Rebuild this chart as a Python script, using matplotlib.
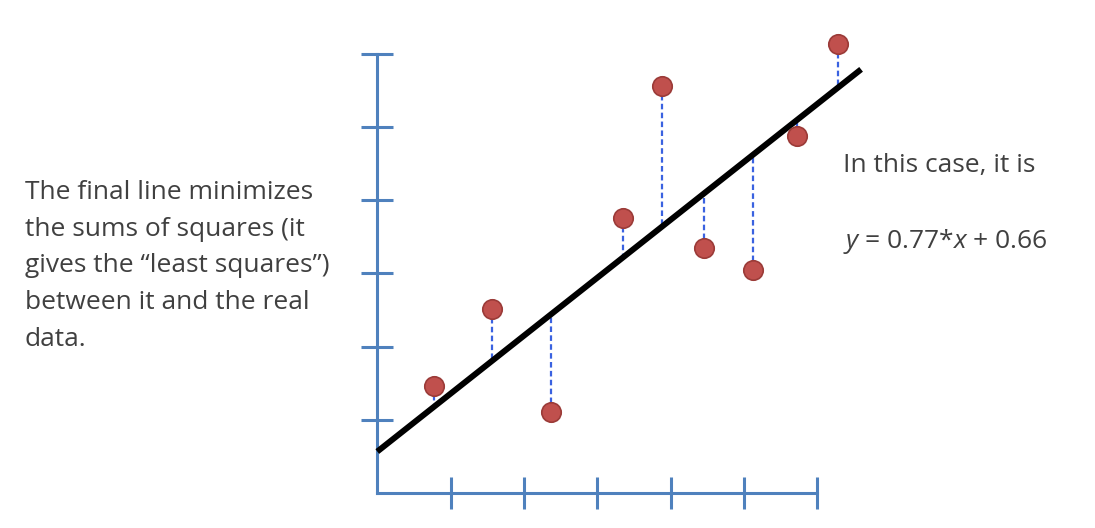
import numpy as np
import matplotlib
matplotlib.use("Agg")
import matplotlib.pyplot as plt

plt.rcParams['font.family'] = ['Open Sans', 'DejaVu Sans']
plt.rcParams['mathtext.fontset'] = 'custom'
plt.rcParams['mathtext.rm'] = 'Open Sans'
plt.rcParams['mathtext.it'] = 'Open Sans:italic'

# data points (axis units)
x_pts = [0.77, 1.57, 2.37, 3.35, 3.89, 4.46, 5.12, 5.73, 6.28]
y_pts = [1.46, 2.52, 1.11, 3.76, 5.55, 3.34, 3.05, 4.87, 6.13]

# fitted line as drawn
fit_slope = 0.79
fit_intercept = 0.57
fit_x = [0.0, 6.6]

tick_vals = [1, 2, 3, 4, 5, 6]

left_lines = ["The final line minimizes", "the sums of squares (it",
              "gives the \u201cleast squares\u201d)", "between it and the real",
              "data."]

axis_col = '#4f81bd'
text_col = '#404040'

fig = plt.figure(figsize=(10.95, 5.28), dpi=100)
ax = fig.add_axes([0, 0, 1, 1])
ax.set_xlim(-5.147, 9.791)
ax.set_ylim(-0.473, 6.730)

# axes like the slide
for side in ['top', 'right']:
    ax.spines[side].set_visible(False)
for side in ['left', 'bottom']:
    ax.spines[side].set_position(('data', 0))
    ax.spines[side].set_color(axis_col)
    ax.spines[side].set_linewidth(2.2)
    ax.spines[side].set_bounds(0, 6)
ax.set_xticks(tick_vals)
ax.set_yticks(tick_vals)
ax.tick_params(direction='inout', length=23, width=2.2, color=axis_col,
               labelleft=False, labelbottom=False)

# residuals
fx = np.array(x_pts)
fit_at_pts = fit_slope * fx + fit_intercept
ax.vlines(x_pts, y_pts, fit_at_pts, colors='#3a62e0', linestyles=(0, (2.5, 1.5)),
          linewidth=1.6, zorder=2)

# fitted line
lx = np.array(fit_x)
ax.plot(lx, fit_slope * lx + fit_intercept, color='black', linewidth=4.3,
        solid_capstyle='butt', zorder=3)

# points
ax.plot(x_pts, y_pts, 'o', markersize=14, markerfacecolor='#c0504d',
        markeredgecolor='#9b3b38', markeredgewidth=1.2, zorder=4)

# text, one baseline per line
for i, line in enumerate(left_lines):
    fig.text(25 / 1095, 1 - (199 + 36.7 * i) / 528, line, fontsize=19,
             color=text_col, va='baseline', ha='left')
fig.text(843 / 1095, 1 - 172 / 528, "In this case, it is", fontsize=19,
         color=text_col, va='baseline', ha='left')
fig.text(843 / 1095, 1 - 248 / 528, "$y$ = 0.77*$x$ + 0.66", fontsize=19,
         color=text_col, va='baseline', ha='left')

fig.savefig("out.png", dpi=100)
